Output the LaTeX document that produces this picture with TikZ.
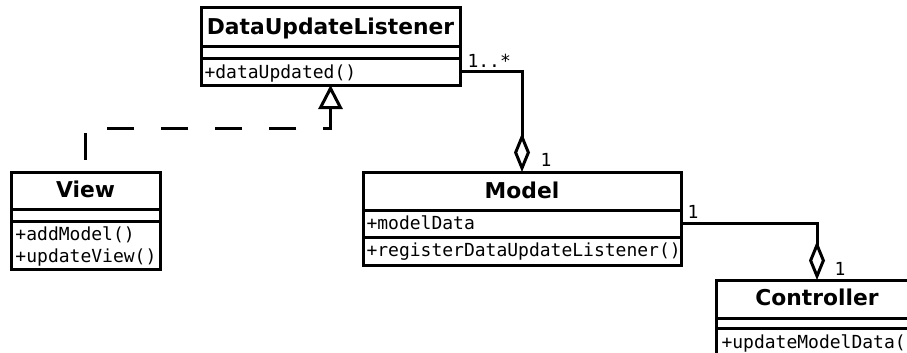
\documentclass[tikz,border=0pt]{standalone}
\usepackage{fontspec}
\newfontfamily\titlefont{DejaVu Sans}
\newfontfamily\monofont{DejaVu Sans Mono}
\usetikzlibrary{arrows.meta}
\begin{document}
\begin{tikzpicture}[x=1pt,y=-1pt,
  line width=3pt,
  classbox/.style={draw, anchor=north west, inner sep=0pt, outer sep=0pt},
  ctitle/.style={anchor=base, inner sep=0pt, font=\titlefont\bfseries\fontsize{21.8}{25}\selectfont},
  member/.style={anchor=base west, inner sep=0pt, font=\monofont\fontsize{18}{22}\selectfont},
  mult/.style={anchor=base west, inner sep=0pt, font=\monofont\fontsize{18}{22}\selectfont},
  realize/.style={dash pattern=on 27pt off 27pt, {Triangle[open,length=24pt,width=24pt]}-},
  aggr/.style={-{Diamond[open,length=39pt,width=16pt]}}
]
\useasboundingbox (0,0) rectangle (907,353);
\clip (0,0) rectangle (907,353);

% DataUpdateListener
\node[classbox, minimum width=259pt, minimum height=77pt] (dul) at (201,8) {};
\node[ctitle] (dult) at (330.5,35) {DataUpdateListener};
\draw ([yshift=-39pt]dul.north west) -- ([yshift=-39pt]dul.north east);
\draw ([yshift=-51pt]dul.north west) -- ([yshift=-51pt]dul.north east);
\node[member] (dulm) at (203,78) {+dataUpdated()};

% View
\node[classbox, minimum width=149pt, minimum height=97pt] (view) at (11,172) {};
\node[ctitle] (viewt) at (85.5,197) {View};
\draw ([yshift=-37pt]view.north west) -- ([yshift=-37pt]view.north east);
\draw ([yshift=-49pt]view.north west) -- ([yshift=-49pt]view.north east);
\node[member] (viewm1) at (14,240) {+addModel()};
\node[member] (viewm2) at (14,262) {+updateView()};

% Model
\node[classbox, minimum width=318pt, minimum height=93pt] (model) at (363,172) {};
\node[ctitle] (modelt) at (522,198) {Model};
\draw ([yshift=-38pt]model.north west) -- ([yshift=-38pt]model.north east);
\draw ([yshift=-65pt]model.north west) -- ([yshift=-65pt]model.north east);
\node[member] (modela) at (365,229) {+modelData};
\node[member] (modelm) at (365,256) {+registerDataUpdateListener()};

% Controller
\node[classbox, minimum width=202pt, minimum height=100pt] (ctrl) at (716,280) {};
\node[ctitle] (ctrlt) at (817,305) {Controller};
\draw ([yshift=-38pt]ctrl.north west) -- ([yshift=-38pt]ctrl.north east);
\draw ([yshift=-48pt]ctrl.north west) -- ([yshift=-48pt]ctrl.north east);
\node[member] (ctrlm) at (720,348) {+updateModelData(};

% Realization View -> DataUpdateListener
\coordinate (gbend) at (330.5,128);
\draw[realize] (dul.south) -- (gbend) -| (view.north);

% Aggregation DataUpdateListener -> Model
\coordinate (a1) at (522,71);
\draw[aggr] (dul.east |- a1) -- (a1) -- (model.north);
\node[mult] (m1) at (466,67) {1..*};
\node[mult] (m2) at (539,166) {1};

% Aggregation Model -> Controller
\coordinate (a2) at (817,223);
\draw[aggr] (model.east |- a2) -- (a2) -- (ctrl.north);
\node[mult] (m3) at (686,218) {1};
\node[mult] (m4) at (833,275) {1};
\end{tikzpicture}
\end{document}
